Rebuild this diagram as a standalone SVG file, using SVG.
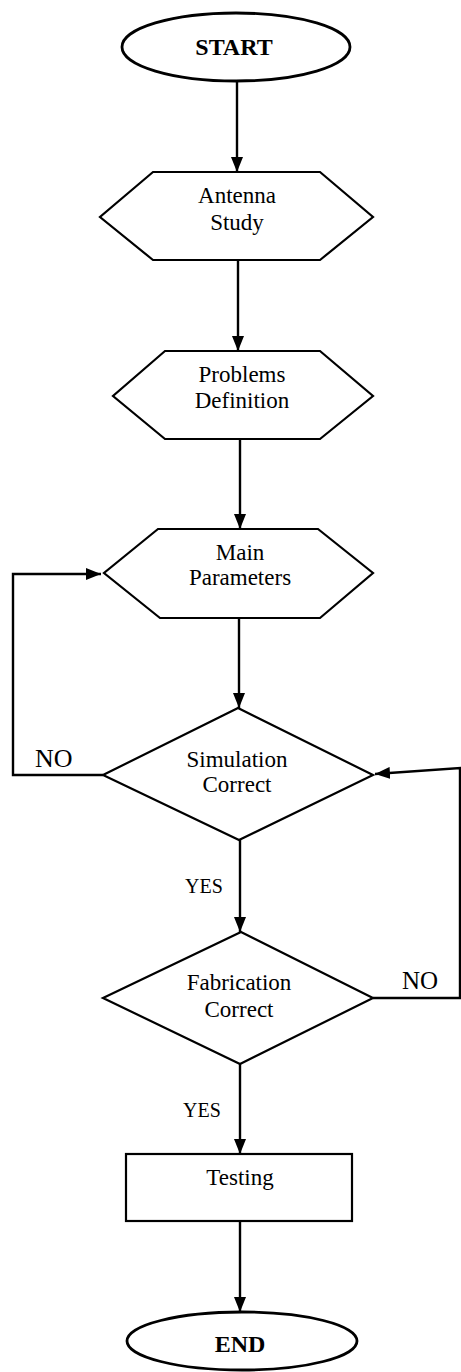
<svg xmlns="http://www.w3.org/2000/svg" width="461" height="1372" viewBox="0 0 461 1372">
<defs>
<marker id="ah" viewBox="0 0 15 12" refX="15" refY="6" markerWidth="15" markerHeight="12" markerUnits="userSpaceOnUse" orient="auto">
<path d="M0,0 L15,6 L0,12 Z" fill="#000"/>
</marker>
<style>
.shape{fill:#fff;stroke:#000;stroke-width:2.2}
.oval{stroke-width:2.8}
.conn{fill:none;stroke:#000;stroke-width:2.4}
.t{font-family:"Liberation Serif","Times New Roman",serif;font-size:23px;fill:#000;text-anchor:middle}
.b{font-weight:bold;font-size:24px}
.lbl{font-family:"Liberation Serif","Times New Roman",serif;fill:#000}
</style>
</defs>
<rect width="461" height="1372" fill="#fff"/>
<g id="connectors">
<line class="conn" x1="237" y1="81" x2="237" y2="172" marker-end="url(#ah)"/>
<line class="conn" x1="238" y1="260" x2="238" y2="351" marker-end="url(#ah)"/>
<line class="conn" x1="240" y1="439" x2="240" y2="529" marker-end="url(#ah)"/>
<line class="conn" x1="239" y1="618" x2="239" y2="708" marker-end="url(#ah)"/>
<polyline class="conn" points="103,775 13,775 13,574 101,574" marker-end="url(#ah)"/>
<line class="conn" x1="240" y1="840" x2="240" y2="932" marker-end="url(#ah)"/>
<polyline class="conn" points="373,998 460,998 460,768 375,774" marker-end="url(#ah)"/>
<line class="conn" x1="240" y1="1064" x2="240" y2="1154" marker-end="url(#ah)"/>
<line class="conn" x1="240" y1="1221" x2="240" y2="1312" marker-end="url(#ah)"/>
<text class="lbl" x="35" y="767" font-size="26">NO</text>
<text class="lbl" x="402" y="989" font-size="25">NO</text>
<text class="lbl" x="185" y="893" font-size="20">YES</text>
<text class="lbl" x="183" y="1117" font-size="20">YES</text>
</g>
<g id="start">
<ellipse class="shape oval" cx="236" cy="47" rx="114" ry="34"/>
<text class="t b" x="234" y="55">START</text>
</g>
<g id="antenna-study">
<polygon class="shape" points="153,172 320,172 373,217 320,260 153,260 100,217"/>
<text class="t" x="237" y="203">Antenna</text>
<text class="t" x="237" y="230">Study</text>
</g>
<g id="problems-definition">
<polygon class="shape" points="165,351 320,351 373,396 320,439 165,439 113,396"/>
<text class="t" x="242" y="382">Problems</text>
<text class="t" x="242" y="408">Definition</text>
</g>
<g id="main-parameters">
<polygon class="shape" points="158,529 318,529 373,573 320,618 160,618 104,573"/>
<text class="t" x="240" y="560">Main</text>
<text class="t" x="240" y="585">Parameters</text>
</g>
<g id="simulation-correct">
<polygon class="shape" points="238,708 373,775 239,840 103,775"/>
<text class="t" x="237" y="767">Simulation</text>
<text class="t" x="237" y="792">Correct</text>
</g>
<g id="fabrication-correct">
<polygon class="shape" points="241,932 373,998 240,1064 103,998"/>
<text class="t" x="239" y="990">Fabrication</text>
<text class="t" x="239" y="1017">Correct</text>
</g>
<g id="testing">
<rect class="shape" x="126" y="1154" width="226" height="67"/>
<text class="t" x="240" y="1185">Testing</text>
</g>
<g id="end">
<ellipse class="shape oval" cx="242" cy="1341" rx="115" ry="29"/>
<text class="t b" x="240" y="1352">END</text>
</g>
</svg>
